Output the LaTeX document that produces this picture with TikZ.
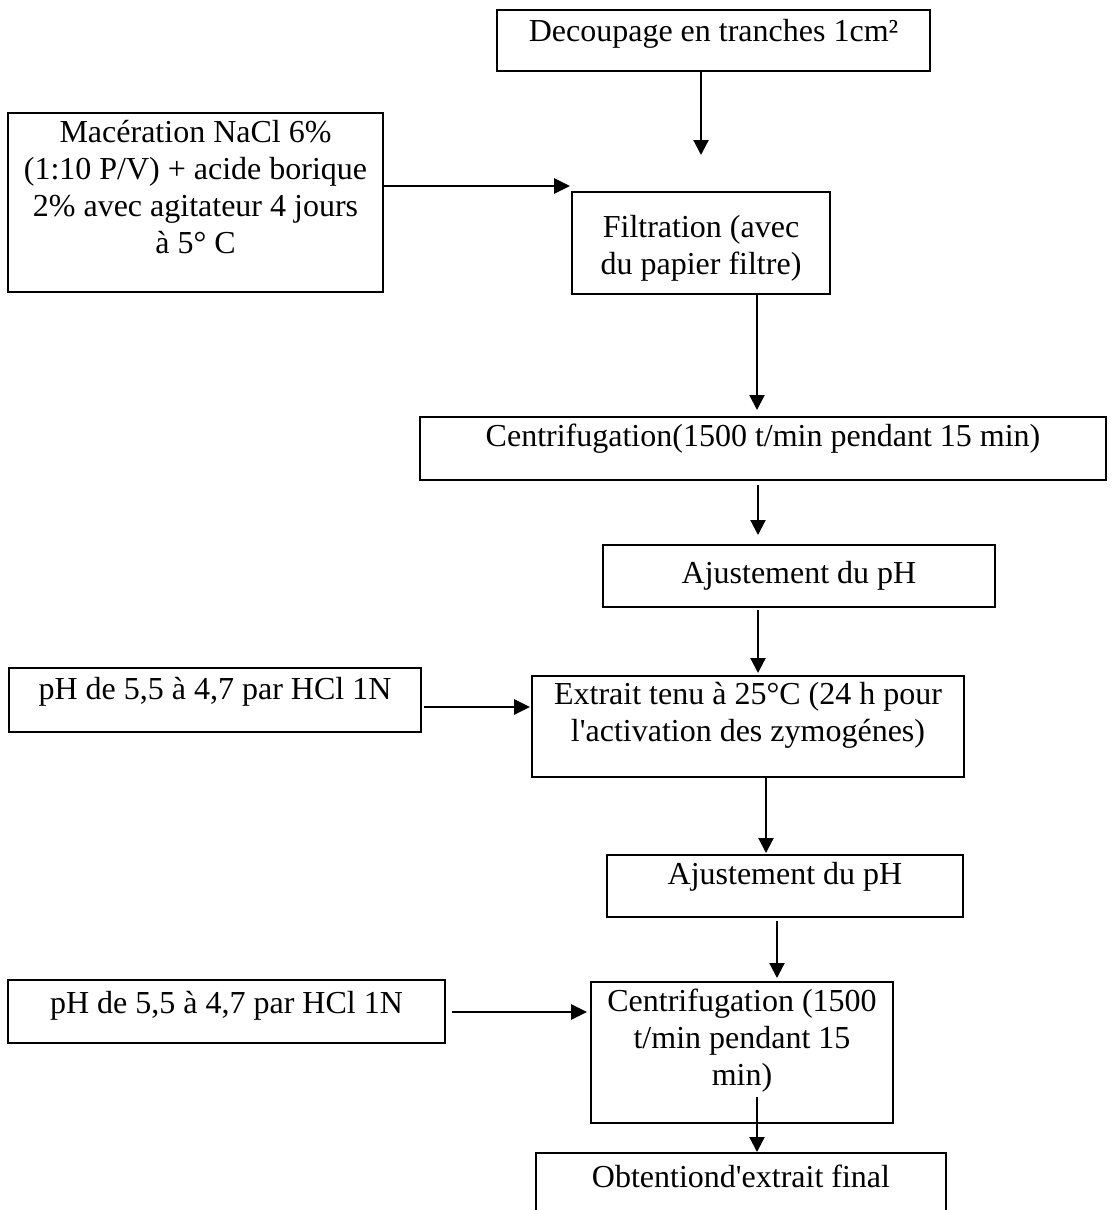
\documentclass[tikz,border=0pt]{standalone}
\usepackage{fontspec}
\setmainfont{Liberation Serif}[Ligatures=TeXOff]
\usetikzlibrary{arrows.meta}
\tikzset{
  fbox/.style={draw=black, line width=2.8pt, inner sep=0pt, outer sep=0pt,
    font=\fontsize{32}{37}\selectfont, anchor=north west},
  varr/.style={draw=black, line width=2.2pt, -{Triangle[length=15pt,width=15pt]}},
  harr/.style={draw=black, line width=2.8pt, -{Triangle[length=16pt,width=15pt]}}
}
% name, left, top, right, bottom, top gap, text
\newcommand\flowbox[7]{%
  \node[fbox] (#1) at (#2,#3) {\parbox[c][\dimexpr #5pt-#3pt\relax][t]{\dimexpr #4pt-#2pt\relax}{\centering\vspace*{#6pt}\rule{0pt}{24pt}#7\par}};}
\begin{document}
\begin{tikzpicture}[x=1pt,y=-1pt]
\useasboundingbox (0,0) rectangle (1112,1210);
\clip (0,0) rectangle (1112,1210);
\fill[white] (0,0) rectangle (1112,1210);

\flowbox{b1}{497}{10}{930}{71}{7}{Decoupage en tranches 1cm²}
\flowbox{mac}{8}{113}{383}{292}{5}{Macération NaCl 6\%\\(1:10 P/V) + acide borique\\2\% avec agitateur 4 jours\\à 5° C}
\flowbox{filt}{572}{192}{830}{294}{21}{Filtration (avec\\du papier filtre)}
\flowbox{cen1}{420}{417}{1106}{480}{5}{Centrifugation(1500 t/min pendant 15 min)}
\flowbox{aj1}{603}{545}{995}{607}{14}{Ajustement du pH}
\flowbox{ph1}{9}{668}{421}{732}{7}{pH de 5,5 à 4,7 par HCl 1N}
\flowbox{ext}{532}{676}{964}{777}{4}{Extrait tenu à 25°C (24 h pour\\l'activation des zymogénes)}
\flowbox{aj2}{607}{855}{963}{917}{5}{Ajustement du pH}
\flowbox{ph2}{8}{980}{445}{1043}{9}{pH de 5,5 à 4,7 par HCl 1N}
\flowbox{cen2}{591}{982}{893}{1123}{5}{Centrifugation (1500\\t/min pendant 15\\min)}
\flowbox{obt}{536}{1153}{946}{1260}{10}{Obtentiond'extrait final}

\coordinate (c1) at (701,155);
\coordinate (c2) at (570,186);
\coordinate (xb) at (757,0);
\coordinate (xc) at (758,0);
\coordinate (xd) at (766,0);
\coordinate (xe) at (777,0);
\coordinate (yb) at (0,707);
\coordinate (yc) at (0,1012);
\coordinate (c10) at (757,1097);

\draw[varr] (b1.south -| c1) -- (c1);
\draw[harr] (mac.east |- c2) -- (c2);
\draw[varr, shorten >=7pt] (filt.south -| xb) -- (cen1.north -| xb);
\draw[varr, shorten <=5pt, shorten >=10pt] (cen1.south -| xc) -- (aj1.north -| xc);
\draw[varr, shorten <=3pt, shorten >=3pt] (aj1.south -| xc) -- (ext.north -| xc);
\draw[harr, shorten <=3pt, shorten >=2pt] (ph1.east |- yb) -- (ext.west |- yb);
\draw[varr, shorten >=2pt] (ext.south -| xd) -- (aj2.north -| xd);
\draw[varr, shorten <=4pt, shorten >=4pt] (aj2.south -| xe) -- (cen2.north -| xe);
\draw[harr, shorten <=7pt, shorten >=4pt] (ph2.east |- yc) -- (cen2.west |- yc);
\draw[varr, shorten >=1pt] (c10) -- (obt.north -| c10);
\end{tikzpicture}
\end{document}
